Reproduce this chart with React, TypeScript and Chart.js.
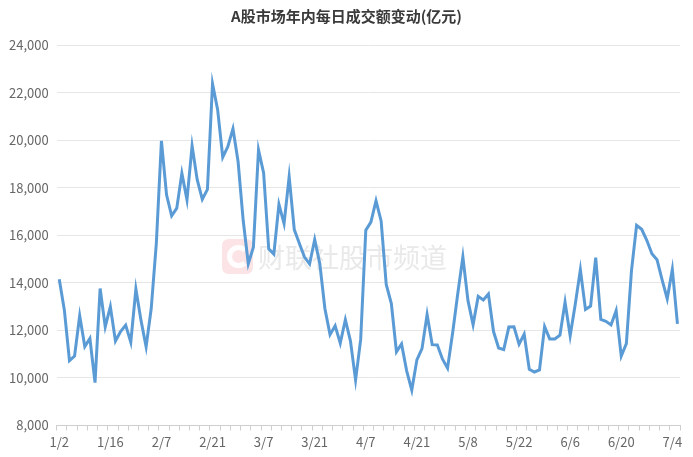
import React, { useEffect, useRef } from "react";
import { Chart, registerables } from "chart.js";

Chart.register(...registerables);

const TITLE = "A股市场年内每日成交额变动(亿元)";
const WATERMARK = "财联社股市频道";

const dates: string[] = [
  "1/2", "1/3", "1/6", "1/7", "1/8", "1/9", "1/10", "1/13", "1/14", "1/15",
  "1/16", "1/17", "1/20", "1/21", "1/22", "1/23", "1/24", "1/27",
  "2/5", "2/6", "2/7", "2/10", "2/11", "2/12", "2/13", "2/14", "2/17", "2/18",
  "2/19", "2/20", "2/21", "2/24", "2/25", "2/26", "2/27", "2/28",
  "3/3", "3/4", "3/5", "3/6", "3/7", "3/10", "3/11", "3/12", "3/13", "3/14",
  "3/17", "3/18", "3/19", "3/20", "3/21", "3/24", "3/25", "3/26", "3/27", "3/28", "3/31",
  "4/1", "4/2", "4/3", "4/7", "4/8", "4/9", "4/10", "4/11", "4/14", "4/15",
  "4/16", "4/17", "4/18", "4/21", "4/22", "4/23", "4/24", "4/25", "4/28", "4/29", "4/30",
  "5/6", "5/7", "5/8", "5/9", "5/12", "5/13", "5/14", "5/15", "5/16", "5/19",
  "5/20", "5/21", "5/22", "5/23", "5/26", "5/27", "5/28", "5/29", "5/30",
  "6/3", "6/4", "6/5", "6/6", "6/9", "6/10", "6/11", "6/12", "6/13", "6/16",
  "6/17", "6/18", "6/19", "6/20", "6/23", "6/24", "6/25", "6/26", "6/27", "6/30",
  "7/1", "7/2", "7/3", "7/4", "7/7",
];

const shownTicks: string[] = [
  "1/2", "1/16", "2/7", "2/21", "3/7", "3/21", "4/7", "4/21", "5/8", "5/22", "6/6", "6/20", "7/4",
];

const turnover: number[] = [
  14150, 12850, 10730, 10920, 12620, 11320, 11660, 9800, 13760, 12150,
  13000, 11550, 11950, 12220, 11500, 13740, 12420, 11310, 12920, 15660,
  19970, 17700, 16820, 17140, 18610, 17490, 19760, 18340, 17510, 17930,
  22370, 21280, 19280, 19730, 20480, 19100, 16630, 14800, 15500, 19590,
  18620, 15430, 15210, 17300, 16490, 18460, 16240, 15650, 15080, 14790,
  15820, 14800, 12910, 11820, 12190, 11460, 12450, 11550, 9910, 11620,
  16210, 16550, 17450, 16600, 13930, 13130, 11100, 11430, 10300, 9490,
  10760, 11230, 12670, 11400, 11390, 10800, 10410, 11900, 13540, 15090,
  13250, 12240, 13430, 13280, 13530, 11950, 11260, 11190, 12140, 12150,
  11420, 11840, 10360, 10250, 10340, 12160, 11640, 11640, 11800, 13190,
  11770, 13100, 14550, 12880, 13020, 15060, 12460, 12380, 12230, 12830,
  10920, 11440, 14500, 16420, 16250, 15790, 15220, 14970, 14120, 13330,
  14570, 12270,
];

const Y_MIN = 8000;
const Y_MAX = 24000;
const Y_STEP = 2000;

const FONT = '"Noto Sans CJK SC", "Noto Sans", sans-serif';

const decorPlugin = {
  id: "decor",
  beforeDatasetsDraw(chart: any) {
    const ctx = chart.ctx;
    ctx.save();
    // watermark logo
    const x = 222, y = 239, w = 31, h = 35, r = 7;
    ctx.fillStyle = "rgba(238, 90, 100, 0.16)";
    ctx.beginPath();
    ctx.moveTo(x + r, y);
    ctx.lineTo(x + w - r, y);
    ctx.quadraticCurveTo(x + w, y, x + w, y + r);
    ctx.lineTo(x + w, y + h - r);
    ctx.quadraticCurveTo(x + w, y + h, x + w - r, y + h);
    ctx.lineTo(x + r, y + h);
    ctx.quadraticCurveTo(x, y + h, x, y + h - r);
    ctx.lineTo(x, y + r);
    ctx.quadraticCurveTo(x, y, x + r, y);
    ctx.fill();
    ctx.strokeStyle = "rgba(255,255,255,0.95)";
    ctx.lineWidth = 5;
    ctx.beginPath();
    ctx.arc(x + w / 2 + 1, y + h / 2, 9, Math.PI * 0.25, Math.PI * 1.75);
    ctx.stroke();
    // watermark text
    ctx.fillStyle = "#e9e9e9";
    ctx.font = `27px ${FONT}`;
    ctx.textAlign = "left";
    ctx.textBaseline = "middle";
    ctx.fillText(WATERMARK, 258, 258);
    ctx.restore();
  },
  afterDraw(chart: any) {
    const ctx = chart.ctx;
    ctx.save();
    ctx.fillStyle = "#3a3a3a";
    ctx.font = `bold 15px ${FONT}`;
    ctx.textAlign = "center";
    ctx.textBaseline = "middle";
    ctx.fillText(TITLE, 346.5, 16);
    ctx.restore();
  },
};

export default function App() {
  const canvasRef = useRef<HTMLCanvasElement | null>(null);

  useEffect(() => {
    document.body.style.margin = "0";
    const canvas = canvasRef.current;
    if (!canvas) return;
    const chart = new Chart(canvas, {
      type: "line",
      data: {
        labels: dates,
        datasets: [
          {
            data: turnover,
            borderColor: "#5B9BD5",
            borderWidth: 3,
            pointRadius: 0,
            pointHoverRadius: 0,
            tension: 0,
            fill: false,
          },
        ],
      },
      options: {
        animation: false,
        responsive: true,
        maintainAspectRatio: false,
        layout: { padding: { top: 45, right: 13, bottom: 0, left: 0 } },
        plugins: {
          legend: { display: false },
          title: { display: false },
          tooltip: { enabled: false },
        },
        scales: {
          x: {
            type: "category",
            offset: true,
            grid: {
              offset: true,
              drawOnChartArea: false,
              drawTicks: true,
              tickLength: 5,
              lineWidth: 1,
              color: (c: any) => ((c.index ?? 0) % 2 === 0 ? "#cfcfcf" : "rgba(0,0,0,0)"),
            },
            border: { display: true, color: "#cfcfcf", width: 1 },
            ticks: {
              autoSkip: false,
              maxRotation: 0,
              minRotation: 0,
              padding: 4,
              color: "#666666",
              font: { size: 13, family: FONT },
              callback: (_v: any, i: number) =>
                shownTicks.includes(dates[i]) ? dates[i] : "",
            },
            afterFit: (s: any) => {
              s.height = 31.5;
            },
          },
          y: {
            min: Y_MIN,
            max: Y_MAX,
            grid: { color: "#e6e6e6", lineWidth: 1, drawTicks: false },
            border: { display: false },
            ticks: {
              stepSize: Y_STEP,
              padding: 8,
              color: "#666666",
              font: { size: 13, family: FONT },
              callback: (v: any) => Number(v).toLocaleString("en-US"),
            },
            afterFit: (s: any) => {
              s.width = 56.7;
            },
          },
        },
      },
      plugins: [decorPlugin],
    });
    return () => chart.destroy();
  }, []);

  return (
    <div style={{ width: 693, height: 457, position: "relative" }}>
      <canvas ref={canvasRef} />
    </div>
  );
}
